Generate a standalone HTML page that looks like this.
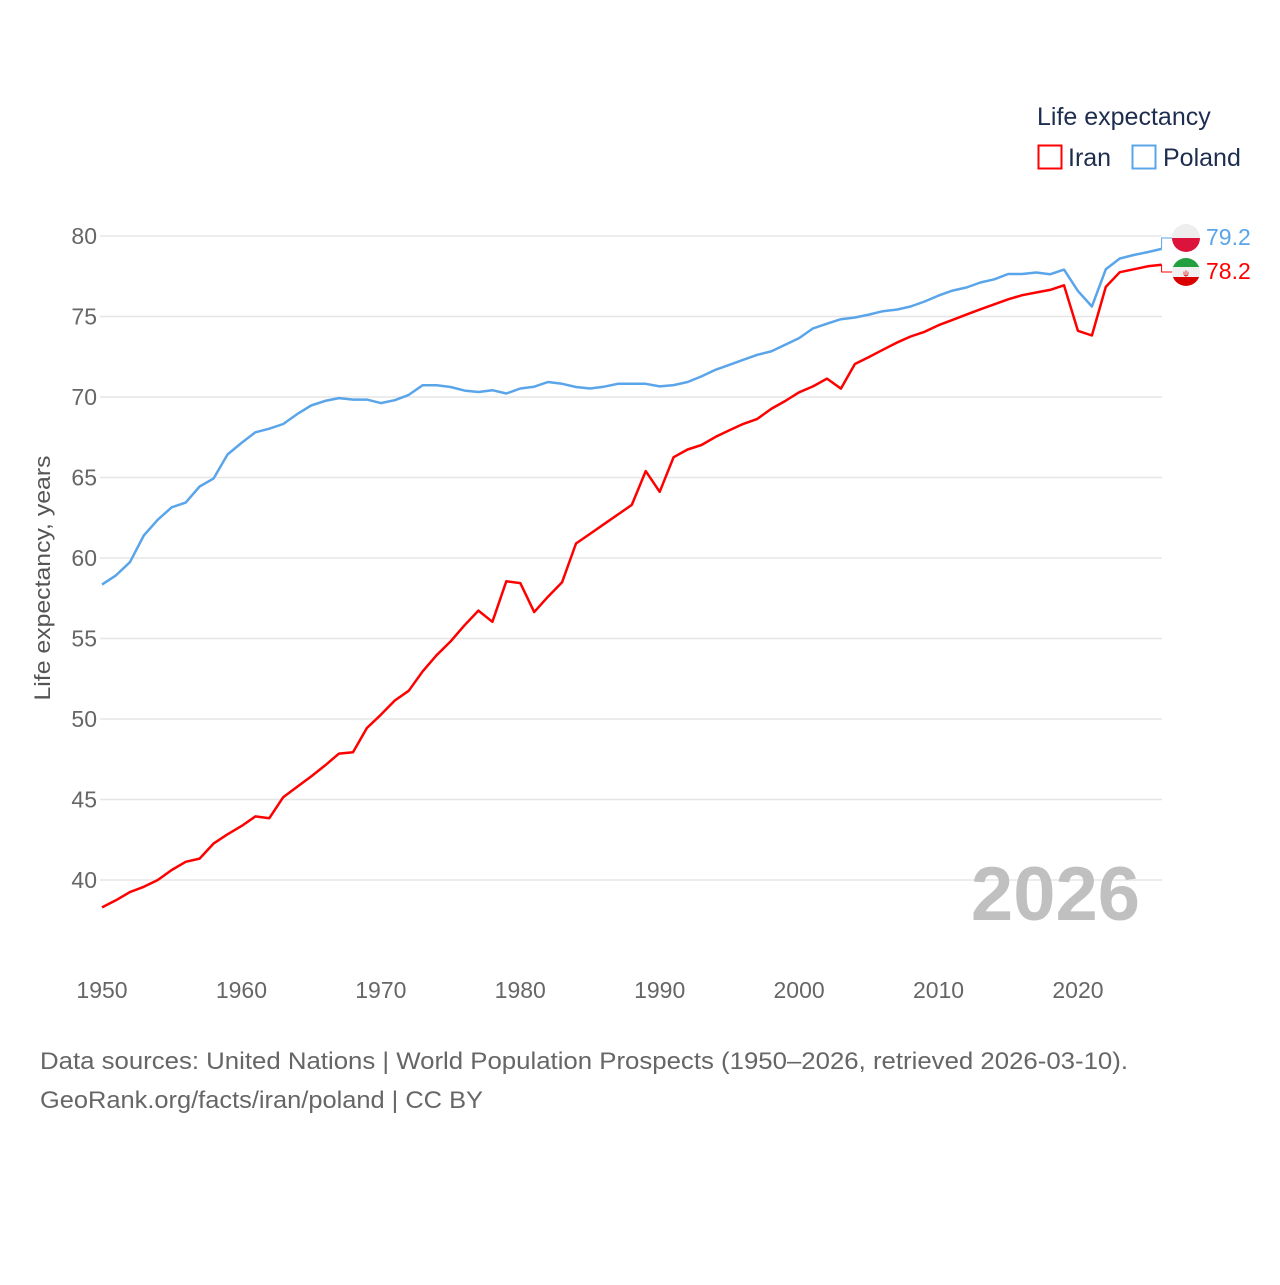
<!DOCTYPE html>
<html><head><meta charset="utf-8"><style>
body{margin:0;background:#fff;width:1280px;height:1280px;overflow:hidden;font-family:"Liberation Sans",sans-serif}
</style></head><body>
<svg id="chart" width="1280" height="1280" xmlns="http://www.w3.org/2000/svg" font-family="Liberation Sans, sans-serif">
<g>
<text x="1037" y="125" font-size="25" fill="#1d2d4f">Life expectancy</text>
<g><rect x="1038.5" y="145.5" width="23" height="23" fill="none" stroke="#ff0000" stroke-width="2"/><text x="1068" y="166" font-size="25" fill="#1d2d4f">Iran</text></g>
<g><rect x="1132.5" y="145.5" width="23" height="23" fill="none" stroke="#5aa5ea" stroke-width="2"/><text x="1163" y="166" font-size="25" fill="#1d2d4f">Poland</text></g>
</g>
<g id="grid"></g>
<g id="yticks"></g>
<g id="xticks"></g>
<text transform="translate(50,578) rotate(-90)" text-anchor="middle" font-size="22" fill="#555" textLength="245" lengthAdjust="spacingAndGlyphs">Life expectancy, years</text>
<text x="1140" y="920" text-anchor="end" font-size="76" font-weight="bold" fill="#c0c0c0">2026</text>
<g id="series"></g>
<g><clipPath id="cp1"><circle cx="1186" cy="238" r="14"/></clipPath><g clip-path="url(#cp1)"><rect x="1172" y="224" width="28" height="14" fill="#eeeeee"/><rect x="1172" y="238" width="28" height="14" fill="#dc143c"/></g></g>
<g><clipPath id="cp2"><circle cx="1186" cy="272" r="14"/></clipPath><g clip-path="url(#cp2)"><rect x="1172" y="258" width="28" height="10" fill="#239f40"/><rect x="1172" y="267" width="28" height="10" fill="#f0f0f0"/><rect x="1172" y="277" width="28" height="10" fill="#da0000"/><text x="1186" y="276" font-size="8" fill="#da0000" text-anchor="middle">ψ</text></g></g>
<text id="lblPol" x="1206" y="245" font-size="23" fill="#5aa5ea">79.2</text>
<text id="lblIran" x="1206" y="279" font-size="23" fill="#ff0000">78.2</text>
<text x="40" y="1069" font-size="24" fill="#666" textLength="1088" lengthAdjust="spacingAndGlyphs">Data sources: United Nations | World Population Prospects (1950–2026, retrieved 2026-03-10).</text>
<text x="40" y="1108" font-size="24" fill="#666" textLength="443" lengthAdjust="spacingAndGlyphs">GeoRank.org/facts/iran/poland | CC BY</text>
</svg>
<script>
const years=[];for(let y=1950;y<=2026;y++)years.push(y);
const yTicks=[40,45,50,55,60,65,70,75,80];
const xTicks=[1950,1960,1970,1980,1990,2000,2010,2020];
const iran=[38.3,38.74,39.25,39.58,40.0,40.62,41.13,41.33,42.26,42.84,43.35,43.95,43.84,45.14,45.79,46.43,47.12,47.85,47.94,49.44,50.26,51.15,51.75,52.96,53.96,54.82,55.82,56.73,56.04,58.55,58.44,56.64,57.6,58.5,60.9,61.5,62.1,62.7,63.3,65.4,64.11,66.26,66.74,67.02,67.52,67.93,68.33,68.64,69.26,69.75,70.29,70.66,71.14,70.52,72.05,72.48,72.93,73.37,73.76,74.05,74.46,74.79,75.12,75.45,75.76,76.07,76.32,76.49,76.65,76.94,74.11,73.82,76.84,77.75,77.93,78.12,78.22];
const poland=[58.35,58.92,59.74,61.4,62.38,63.15,63.44,64.44,64.93,66.43,67.14,67.81,68.03,68.32,68.94,69.47,69.76,69.93,69.84,69.84,69.62,69.8,70.13,70.73,70.73,70.62,70.4,70.31,70.42,70.22,70.53,70.64,70.93,70.82,70.62,70.53,70.64,70.82,70.82,70.82,70.66,70.74,70.93,71.28,71.69,72.0,72.31,72.62,72.83,73.24,73.66,74.26,74.55,74.83,74.94,75.12,75.33,75.43,75.62,75.93,76.3,76.61,76.8,77.11,77.31,77.64,77.64,77.73,77.62,77.91,76.59,75.62,77.93,78.6,78.82,79.0,79.2];
const NS='http://www.w3.org/2000/svg';
const X=y=>102+(y-1950)*(1161.6-102)/76;
const Y=v=>236+(80-v)*16.1;
function mk(t,a,p){const e=document.createElementNS(NS,t);for(const k in a)e.setAttribute(k,a[k]);p.appendChild(e);return e;}
const grid=document.getElementById('grid'),yt=document.getElementById('yticks'),xt=document.getElementById('xticks'),ser=document.getElementById('series');
yTicks.forEach(v=>{
const l=mk('line',{x1:100,x2:1162,y1:Y(v),y2:Y(v),stroke:'#e6e6e6','stroke-width':1.5},grid);


const t=mk('text',{x:97,y:Y(v)+8,'text-anchor':'end','font-size':23,fill:'#666'},yt);t.textContent=v;


});
xTicks.forEach(y=>{
const t=mk('text',{x:X(y),y:998,'text-anchor':'middle','font-size':23,fill:'#666'},xt);t.textContent=y;


});
function line(vals,color,name){
const d=vals.map((v,i)=>(i?'L':'M')+X(years[i]).toFixed(1)+' '+Y(v).toFixed(1)).join(' ');
const p=mk('path',{d:d,fill:'none',stroke:color,'stroke-width':2.5,'stroke-linejoin':'round'},ser);


}
line(poland,'#5aa5ea','line-poland');
line(iran,'#ff0000','line-iran');
const lp=poland[poland.length-1],li=iran[iran.length-1],xe=X(2026);
const c1=mk('path',{d:`M${xe} ${Y(lp)} V238 H1172`,fill:'none',stroke:'#5aa5ea','stroke-width':1},ser);


const c2=mk('path',{d:`M${xe} ${Y(li)} V272 H1172`,fill:'none',stroke:'#ff0000','stroke-width':1},ser);


document.getElementById('lblPol').textContent=lp.toFixed(1);
document.getElementById('lblIran').textContent=li.toFixed(1);
</script>
</body></html>
